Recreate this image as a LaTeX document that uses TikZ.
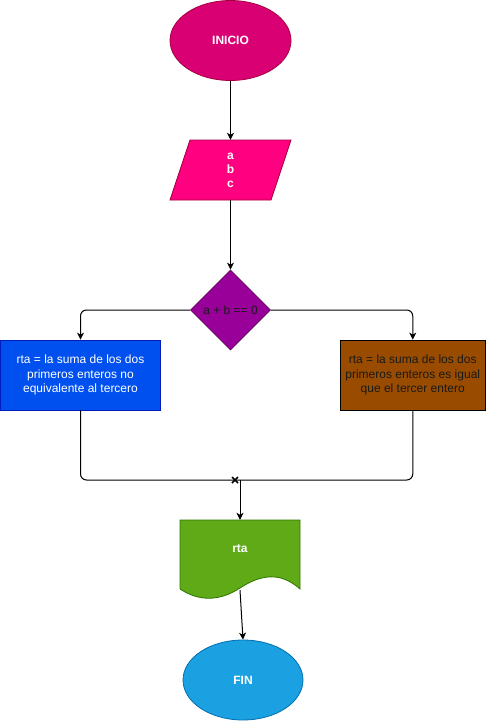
\documentclass[tikz,border=0pt]{standalone}
\usepackage{fontspec}
\setmainfont{Liberation Sans}
\usetikzlibrary{shapes.geometric,arrows.meta,calc}
\definecolor{inifill}{HTML}{D80073}
\definecolor{inistroke}{HTML}{A50040}
\definecolor{parfill}{HTML}{FF0080}
\definecolor{parstroke}{HTML}{A50040}
\definecolor{diafill}{HTML}{990099}
\definecolor{diastroke}{HTML}{5C005C}
\definecolor{lbfill}{HTML}{0050EF}
\definecolor{lbstroke}{HTML}{001DBC}
\definecolor{rbfill}{HTML}{994C00}
\definecolor{docfill}{HTML}{60A917}
\definecolor{docstroke}{HTML}{2D7600}
\definecolor{finfill}{HTML}{1BA1E2}
\definecolor{finstroke}{HTML}{006EAF}
\definecolor{darktext}{HTML}{1A1A1A}
\begin{document}
\begin{tikzpicture}[x=1pt,y=-1pt,
  every node/.style={font=\fontsize{12}{14.5}\selectfont, inner sep=0pt, align=center},
  arr/.style={draw=black, line width=1pt, -{Stealth[length=7pt,width=7pt,inset=2pt]}},
  conn/.style={draw=black, line width=1pt},
  oval/.style={ellipse, draw, line width=0.8pt},
  procbox/.style={rectangle, draw, line width=0.8pt},
]
\useasboundingbox (0,0) rectangle (486,721);

% INICIO
\node[oval, fill=inifill, draw=inistroke, minimum width=121pt, minimum height=80pt,
      text=white, font=\fontsize{12}{14.5}\selectfont\bfseries] (ini) at (230.5,40.5) {INICIO};

% input parallelogram
\node[minimum width=121pt, minimum height=60pt] (par) at (230.5,170) {};
\draw[fill=parfill, draw=parstroke, line width=0.8pt] (190,140) -- (291,140) -- (271,200) -- (170,200) -- cycle;
\node[text=white, font=\fontsize{12}{14}\selectfont\bfseries] (partext) at (230.5,170.5) {a\\b\\c};

% decision
\node[diamond, aspect=1, fill=diafill, draw=diastroke, line width=0.8pt,
      minimum width=80pt, minimum height=80pt, text=darktext] (dec) at (230.5,310) {};
\node[text=darktext] (dectext) at (230.5,310.5) {a + b == 0};

% left box
\node[procbox, fill=lbfill, draw=lbstroke, minimum width=160pt, minimum height=70pt,
      text=white] (lb) at (80.5,375) {rta = la suma de los dos\\primeros enteros no\\equivalente al tercero};

% right box
\node[procbox, fill=rbfill, draw=black, minimum width=145pt, minimum height=70pt,
      text=darktext] (rb) at (412.75,375) {rta = la suma de los dos\\primeros enteros es igual\\que el tercer entero};

% merge
\coordinate (m) at (235,480);
\coordinate (m2) at (240,480);

% document
\node[minimum width=120pt, minimum height=70pt] (doc) at (240,555) {};
\draw[fill=docfill, draw=docstroke, line width=0.8pt]
  (180,520) -- (300,520) -- (300,589)
  .. controls (280,571) and (260,575) .. (240,588)
  .. controls (220,601) and (200,602) .. (180,589) -- cycle;
\node[text=white, font=\fontsize{12}{14.5}\selectfont\bfseries] (doctext) at (240,548.5) {rta};

% FIN
\node[oval, fill=finfill, draw=finstroke, minimum width=120pt, minimum height=80pt,
      text=white, font=\fontsize{12}{14.5}\selectfont\bfseries] (fin) at (243,680) {FIN};

% connectors
\draw[arr] (ini.south) -- (par.north);
\draw[arr] (par.south) -- (dec.north);
\draw[arr, rounded corners=6pt] (dec.west) -| (lb.north);
\draw[arr, rounded corners=6pt] (dec.east) -| (rb.north);
\draw[conn, rounded corners=6pt] (lb.south) |- (m);
\draw[conn, rounded corners=6pt] (rb.south) |- (m);
\draw[arr] (m2) -- (doc.north);
\draw[arr] (doc.south) -- (fin.north);
\draw[line width=1.6pt] ($(m)+(-3,-3)$) -- ($(m)+(3,3)$) ($(m)+(-3,3)$) -- ($(m)+(3,-3)$);
\end{tikzpicture}
\end{document}
